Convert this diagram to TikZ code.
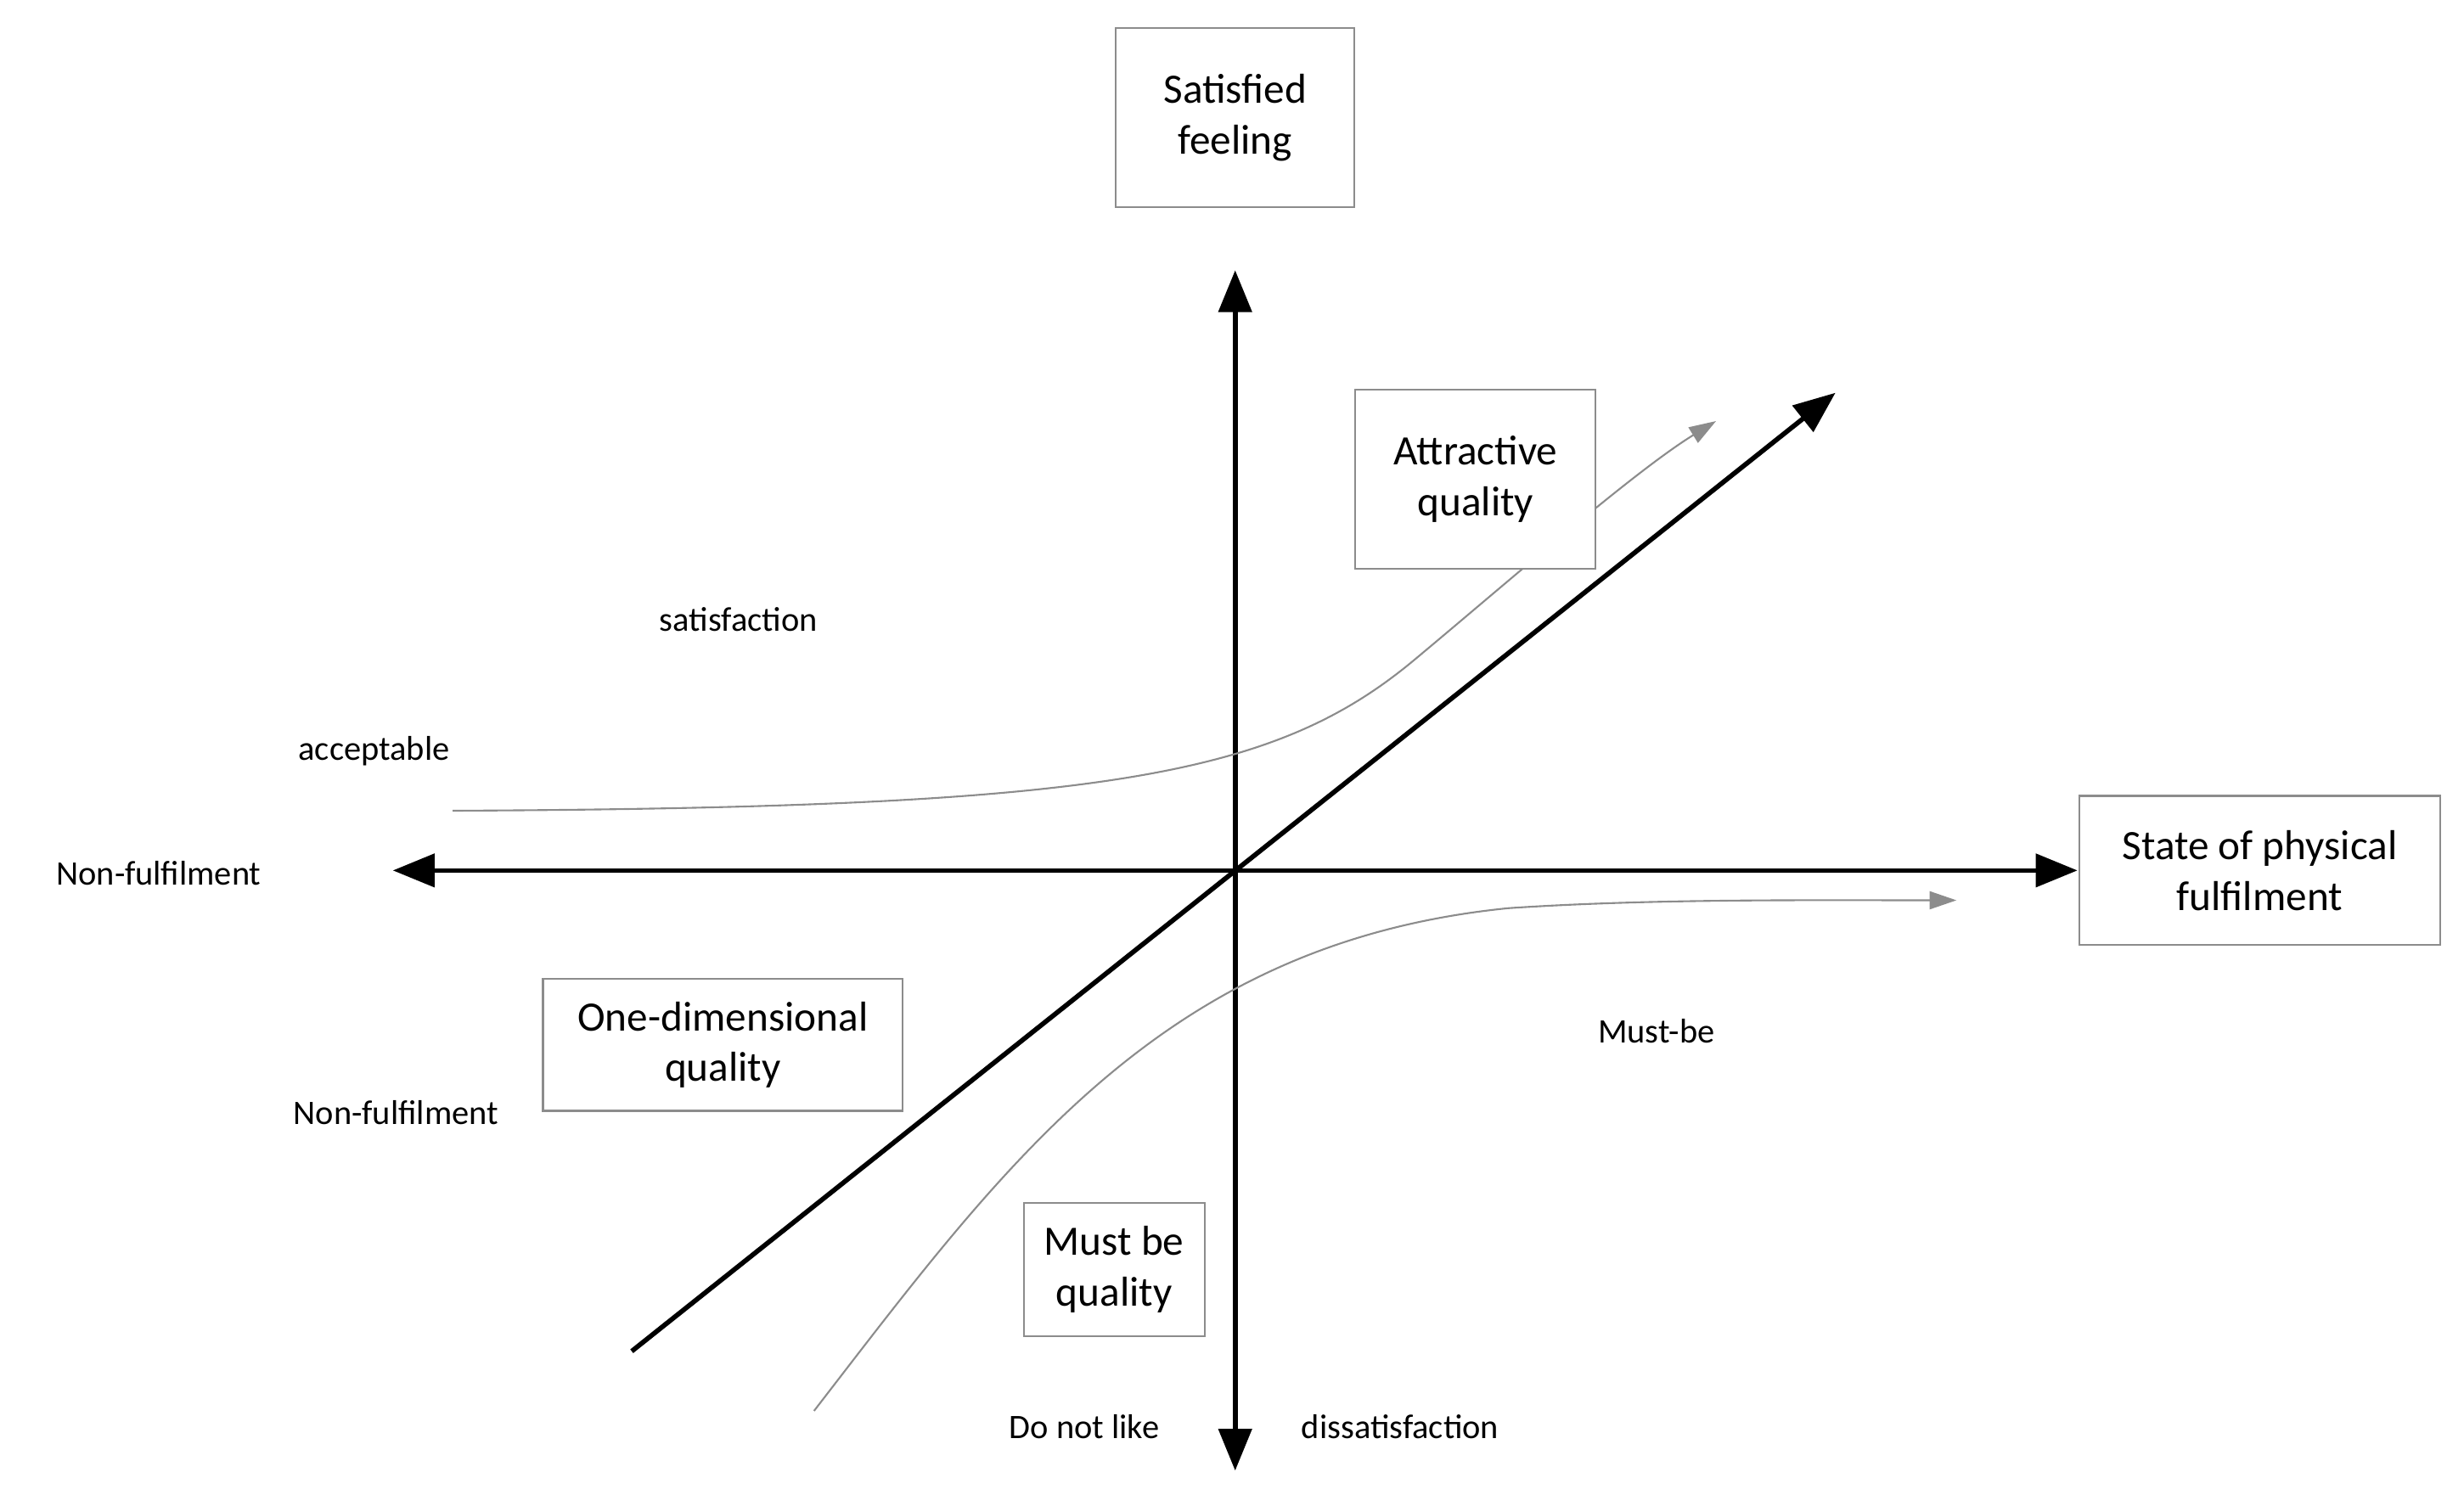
\documentclass[tikz,border=0pt]{standalone}
\usepackage{fontspec}
\setmainfont{Carlito}
\usetikzlibrary{arrows.meta}
\begin{document}
\begin{tikzpicture}[x=0.0185cm,y=-0.0185cm,
  box/.style={draw=black!45,line width=0.6pt,fill=white,align=center,font=\fontsize{14}{17}\selectfont,inner sep=0pt},
  lbl/.style={font=\fontsize{11.5}{14}\selectfont},
  axis/.style={line width=1.6pt,-{Triangle[length=14pt,width=11pt]}},
  curve/.style={draw=black!45,line width=0.6pt,-{Triangle[length=9pt,width=6pt]}}]
\useasboundingbox (0,0) rectangle (1568,958);
\coordinate (O) at (786,554);
\coordinate (T) at (786,172);
\coordinate (B) at (786,936);
\coordinate (L) at (250,554);
\coordinate (R) at (1322,554);
\coordinate (D0) at (402,860);
\coordinate (D1) at (1168,250);
\draw[axis] (O) -- (T);
\draw[axis] (O) -- (B);
\draw[axis] (O) -- (L);
\draw[axis] (O) -- (R);
\draw[axis] (D0) -- (D1);
\coordinate (U0) at (288,516);
\coordinate (U1) at (1092,268);
\draw[curve] (U0) .. controls (700,514) and (810,495) .. (900,420) .. controls (960,370) and (1040,300) .. (U1);
\coordinate (W0) at (518,898);
\coordinate (W1) at (1245,573);
\draw[curve] (W0) .. controls (640,740) and (740,600) .. (960,578) .. controls (1050,572) and (1150,573) .. (W1);
\node[box,minimum width=152pt*0.0185/0.03515,minimum height=114pt*0.0185/0.03515] (sf) at (786,75) {Satisfied\\feeling};
\node[box,minimum width=153pt*0.0185/0.03515,minimum height=114pt*0.0185/0.03515] (aq) at (939,305) {Attractive\\quality};
\node[box,minimum width=230pt*0.0185/0.03515,minimum height=95pt*0.0185/0.03515] (sp) at (1438,554) {State of physical\\fulfilment};
\node[box,minimum width=229pt*0.0185/0.03515,minimum height=84pt*0.0185/0.03515] (od) at (460,665) {One-dimensional\\quality};
\node[box,minimum width=115pt*0.0185/0.03515,minimum height=85pt*0.0185/0.03515] (mb) at (709,808) {Must be\\quality};
\node[lbl] (l1) at (470,394) {satisfaction};
\node[lbl] (l2) at (238,478) {acceptable};
\node[lbl] (l3) at (101,556) {Non-fulfilment};
\node[lbl] (l4) at (1054,656) {Must-be};
\node[lbl] (l5) at (252,708) {Non-fulfilment};
\node[lbl] (l6) at (690,908) {Do not like};
\node[lbl] (l7) at (891,908) {dissatisfaction};
\end{tikzpicture}
\end{document}
